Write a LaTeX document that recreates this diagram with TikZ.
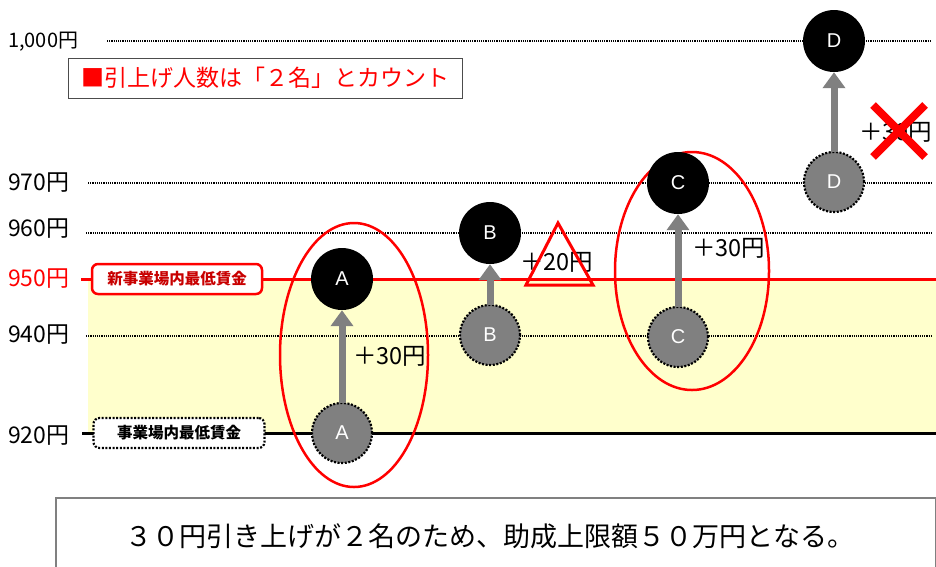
\documentclass[tikz,border=0pt]{standalone}
\usepackage{fontspec}
\setmainfont{Noto Sans CJK JP}
\newfontfamily\latinsans{Liberation Sans}
\usetikzlibrary{arrows.meta}
\definecolor{band}{RGB}{255,255,204}
\definecolor{midgray}{RGB}{128,128,128}
\definecolor{darkred}{RGB}{200,0,0}
\begin{document}
\begin{tikzpicture}[x=1pt,y=-1pt,
  lvl/.style={anchor=west,inner sep=0pt,font=\fontsize{23}{23}\selectfont},
  gridline/.style={dash pattern=on 1.2pt off 1pt,line width=1.1pt},
  newc/.style={circle,fill=black,minimum size=62pt,inner sep=0pt,text=white,font=\latinsans\fontsize{20}{20}\selectfont},
  oldc/.style={circle,fill=midgray,draw=black,dash pattern=on 2pt off 1.6pt,line width=2.2pt,minimum size=60pt,inner sep=0pt,text=white,font=\latinsans\fontsize{20}{20}\selectfont},
  rise/.style={draw=midgray,line width=7pt,-{Triangle[width=22pt,length=16pt]},shorten <=-1pt,shorten >=0pt},
  plus/.style={anchor=west,inner sep=0pt,font=\fontsize{23.5}{23.5}\selectfont},
  pick/.style={draw=red,line width=2.5pt},
]
\useasboundingbox (0,0) rectangle (936,566);
\fill[white] (0,0) rectangle (936,566);
% band
\fill[band] (88,279) rectangle (936,433);
% level labels
\node[lvl,font=\fontsize{20}{20}\selectfont] (l1000) at (8,42) {1,000円};
\node[lvl] (l970) at (8,183) {970円};
\node[lvl] (l960) at (8,229) {960円};
\node[lvl,text=red] (l950) at (8,279) {950円};
\node[lvl] (l940) at (8,335) {940円};
\node[lvl] (l920) at (8,436) {920円};
% grid lines
\coordinate (e1000) at (932,41);
\coordinate (e970) at (932,183);
\coordinate (e960) at (932,233);
\coordinate (e950) at (936,279);
\coordinate (e940) at (932,336);
\coordinate (e920) at (936,433);
\draw[gridline] (107,41) -- (e1000);
\draw[gridline] (88,183) -- (e970);
\draw[gridline] (86,233) -- (e960);
\draw[gridline] (86,336) -- (e940);
\draw[red,line width=3pt] (81,279) -- (e950);
\draw[black,line width=3pt] (82,433) -- (e920);
% boxes on lines
\node[draw=red,line width=2.5pt,rounded corners=6pt,fill=white,minimum width=170pt,minimum height=30pt,inner sep=0pt,text=darkred,font=\bfseries\fontsize{15.5}{15.5}\selectfont] (newmin) at (177,279) {新事業場内最低賃金};
\node[draw=black,dash pattern=on 2pt off 1.6pt,line width=2.2pt,rounded corners=6pt,fill=white,minimum width=171pt,minimum height=30pt,inner sep=0pt,font=\bfseries\fontsize{15.5}{15.5}\selectfont] (oldmin) at (179,433) {事業場内最低賃金};
% title
\node[draw=black!70,line width=0.8pt,fill=white,minimum width=394pt,minimum height=40pt,inner sep=0pt,text=red,font=\fontsize{23}{23}\selectfont] (title) at (265,78) {■引上げ人数は「２名」とカウント};
% ellipses
\draw[pick] (354,355) ellipse [x radius=74, y radius=132];
\draw[pick] (692,271) ellipse [x radius=77, y radius=119];
% circles
\node[newc] (An) at (342,279) {A};
\node[oldc] (Ao) at (342,433) {A};
\node[newc] (Bn) at (490,233) {B};
\node[oldc] (Bo) at (490,335) {B};
\node[newc] (Cn) at (678,183) {C};
\node[oldc] (Co) at (678,337) {C};
\node[newc] (Dn) at (834,41) {D};
\node[oldc] (Do) at (834,182) {D};
% arrows
\draw[rise] (Ao.north) -- (An.south);
\draw[rise] (Bo.north) -- (Bn.south);
\draw[rise] (Co.north) -- (Cn.south);
\draw[rise] (Do.north) -- (Dn.south);
% labels
\node[plus] (pa) at (353,356) {＋30円};
\node[plus] (pb) at (520,262) {＋20円};
\node[plus] (pc) at (692,248) {＋30円};
\node[plus] (pd) at (859,132) {＋30円};
% triangle
\draw[red,line width=3pt,line join=miter] (558,223) -- (593,285) -- (526,285) -- cycle;
% cross
\draw[red,line width=8pt] (873,105) -- (925,157) (925,105) -- (873,157);
% bottom box
\node[draw=midgray,line width=2pt,fill=white,minimum width=880pt,minimum height=80pt,inner sep=0pt,anchor=north west] (note) at (55,497) {};
\node[font=\fontsize{27}{27}\selectfont] (notetext) at (490,536) {３０円引き上げが２名のため、助成上限額５０万円となる。};
\end{tikzpicture}
\end{document}
